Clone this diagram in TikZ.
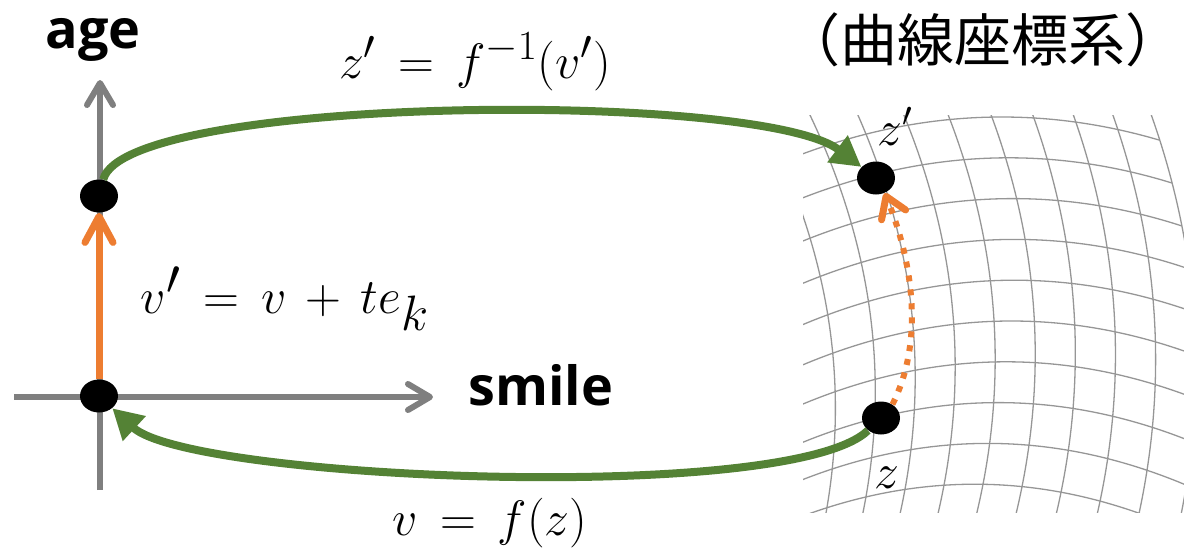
\documentclass[tikz,border=0pt]{standalone}
\usepackage{amsmath}
\usepackage{fontspec}
\setsansfont{Open Sans}
\newfontfamily\jpfont{Noto Sans CJK JP}
\usepackage{tikz}
\usetikzlibrary{arrows.meta,shapes.geometric}
\definecolor{axisgray}{RGB}{127,127,127}
\definecolor{gridgray}{RGB}{150,150,150}
\definecolor{mapgreen}{RGB}{84,130,53}
\definecolor{moveorange}{RGB}{237,125,49}

\begin{document}
\begin{tikzpicture}[x=0.5pt,y=-0.5pt,
    declare function={
      gridt(\v)=21+40.8*\v;
      gridY(\u,\v)=321+40.8*\v
        +(0.0316*(23+40.5*\u+6.5*\v))*(0.0316*(23+40.5*\u+6.5*\v));
      gridX(\u,\v)=1033+40.5*\u*(1-0.0002*gridt(\v))+0.0829*gridt(\v)
        -(0.02782*gridt(\v))*(0.02782*gridt(\v));},
    dot/.style={ellipse,fill=black,inner sep=0pt,
      minimum width=19pt,minimum height=16.5pt},
    axis/.style={draw=axisgray,line width=3pt,
      -{Straight Barb[round,length=11pt,width=13pt]}},
    gridline/.style={draw=gridgray,line width=0.65pt},
    maparrow/.style={draw=mapgreen,line width=4pt,
      -{Triangle[length=15pt,width=16pt]}},
    movearrow/.style={draw=moveorange,line width=3.5pt,
      -{Straight Barb[round,length=13pt,width=14pt]}},
    dotmove/.style={draw=moveorange,line width=3pt,
      dash pattern=on 3pt off 4pt,
      -{Straight Barb[round,length=10pt,width=13pt,line width=3.5pt]}},
    axislabel/.style={font=\sffamily\bfseries\fontsize{27}{32}\selectfont},
    eqlabel/.style={font=\fontsize{29}{34}\selectfont}]
  \useasboundingbox (0,0) rectangle (1184,553);

  % curvilinear grid
  \begin{scope}
    \clip (803,115) rectangle (1184,512);
    \foreach \v in {-7,...,6}
      \draw[gridline] plot[domain=-7:4,samples=40,variable=\u,smooth]
        ({gridX(\u,\v)},{gridY(\u,\v)});
    \foreach \u in {-7,...,4}
      \draw[gridline] plot[domain=-7:6,samples=40,variable=\v,smooth]
        ({gridX(\u,\v)},{gridY(\u,\v)});
  \end{scope}

  % axes
  \coordinate (ybot) at (100,490);
  \coordinate (ytop) at (100,80);
  \coordinate (xleft) at (14,397);
  \coordinate (xright) at (433,397);
  \draw[axis] (ybot) -- (ytop);
  \draw[axis] (xleft) -- (xright);
  \node[axislabel,anchor=base] (agelabel) at (93,48) {age};
  \node[axislabel,anchor=base] (smilelabel) at (541,405) {smile};

  % points
  \node[dot] (orig) at (99,396) {};
  \node[dot] (vtop) at (99,196) {};
  \node[dot] (zp) at (876,178) {};
  \node[dot] (zz) at (881,418) {};

  \draw[movearrow] (orig) -- (vtop);
  \draw[dotmove] (zz.50) .. controls (925,340) and (912,260) .. (zp.-60);
  \draw[maparrow] (vtop) .. controls (125,95) and (760,90) .. (zp);
  \draw[maparrow] (zz) .. controls (790,505) and (190,480) .. (orig);

  % labels
  \node[eqlabel,anchor=base,font=\fontsize{30}{36}\selectfont]
    (invlabel) at (475,78) {$z' \,=\, f^{-1}(v')$};
  \node[eqlabel,anchor=base,font=\fontsize{34}{40}\selectfont]
    (shiftlabel) at (285,313) {$v' \,=\, v \,+\, te_k$};
  \node[eqlabel,anchor=base] (fwdlabel) at (490,535) {$v \,=\, f(z)$};
  \node[anchor=base,font=\fontsize{24}{28}\selectfont] (zplabel)
    at (895,145) {$z'$};
  \node[anchor=base,font=\fontsize{27}{32}\selectfont] (zlabel)
    at (887,488) {$z$};
  \node[font=\jpfont\fontsize{28.5}{33}\selectfont,inner sep=0pt] (title)
    at (983,40) {（曲線座標系）};
\end{tikzpicture}
\end{document}
